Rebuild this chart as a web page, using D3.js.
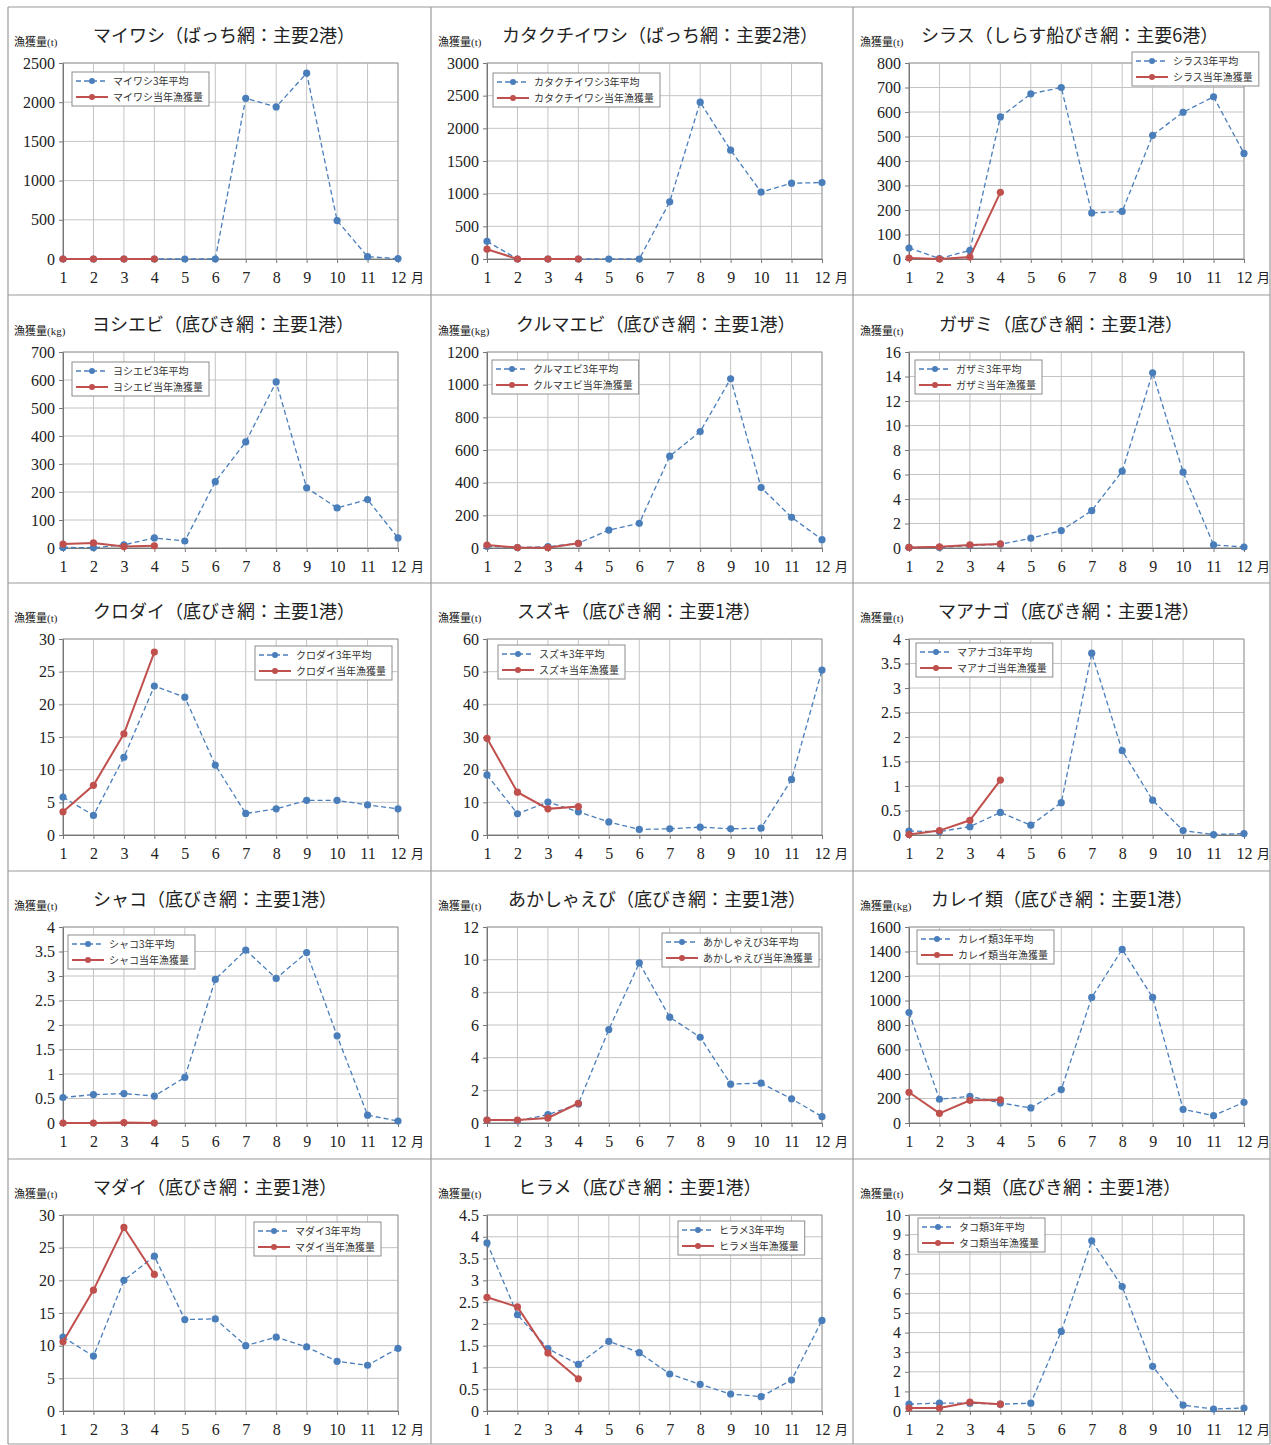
<!DOCTYPE html>
<html>
<head>
<meta charset="utf-8">
<script src="https://cdn.jsdelivr.net/npm/d3@7"></script>
<style>
  body { margin: 0; background: #fff; }
  svg { display: block; }
</style>
</head>
<body>
<svg id="vis" width="1271" height="1445"></svg>
<script>
// ---- data ----
var months = [1, 2, 3, 4, 5, 6, 7, 8, 9, 10, 11, 12];

var speciesNames = ['マイワシ', 'カタクチイワシ', 'シラス', 'ヨシエビ', 'クルマエビ', 'ガザミ',
    'クロダイ', 'スズキ', 'マアナゴ', 'シャコ', 'あかしゃえび', 'カレイ類', 'マダイ', 'ヒラメ', 'タコ類'];

var gearLabels = ['ばっち網：主要2港', 'ばっち網：主要2港', 'しらす船びき網：主要6港',
    '底びき網：主要1港', '底びき網：主要1港', '底びき網：主要1港', '底びき網：主要1港',
    '底びき網：主要1港', '底びき網：主要1港', '底びき網：主要1港', '底びき網：主要1港',
    '底びき網：主要1港', '底びき網：主要1港', '底びき網：主要1港', '底びき網：主要1港'];

var units = ['t', 't', 't', 'kg', 'kg', 't', 't', 't', 't', 't', 't', 'kg', 't', 't', 't'];

var yMaxes = [2500, 3000, 800, 700, 1200, 16, 30, 60, 4, 4, 12, 1600, 30, 4.5, 10];
var ySteps = [500, 500, 100, 100, 200, 2, 5, 10, 0.5, 0.5, 2, 200, 5, 0.5, 1];

// 3年平均 (12 months)
var avg3yr = [
    [0, 0, 0, 0, 0, 0, 2050, 1940, 2370, 490, 30, 5],
    [270, 0, 0, 0, 0, 0, 875, 2400, 1665, 1025, 1160, 1170],
    [45, 2, 35, 580, 674, 700, 188, 194, 505, 599, 662, 431],
    [2, 1, 11, 36, 25, 237, 379, 593, 215, 143, 173, 36],
    [10, 3, 8, 29, 110, 151, 562, 713, 1036, 370, 188, 51],
    [0.05, 0.05, 0.2, 0.3, 0.8, 1.42, 3.05, 6.27, 14.3, 6.19, 0.25, 0.08],
    [5.8, 3.0, 11.9, 22.8, 21.1, 10.7, 3.3, 4.0, 5.3, 5.3, 4.6, 4.0],
    [18.4, 6.5, 10.1, 7.1, 4.0, 1.7, 1.9, 2.4, 1.9, 2.1, 17, 50.5],
    [0.08, 0.07, 0.17, 0.46, 0.2, 0.66, 3.71, 1.72, 0.71, 0.09, 0.01, 0.03],
    [0.52, 0.58, 0.6, 0.55, 0.93, 2.93, 3.53, 2.95, 3.48, 1.78, 0.16, 0.04],
    [0.18, 0.14, 0.51, 1.17, 5.72, 9.8, 6.48, 5.25, 2.38, 2.44, 1.48, 0.39],
    [902, 194, 218, 164, 123, 273, 1025, 1417, 1025, 112, 60, 169],
    [11.3, 8.4, 20.0, 23.7, 14.0, 14.1, 10.0, 11.3, 9.8, 7.6, 7.0, 9.6],
    [3.86, 2.21, 1.43, 1.07, 1.6, 1.34, 0.85, 0.61, 0.39, 0.33, 0.71, 2.08],
    [0.35, 0.4, 0.4, 0.35, 0.4, 4.06, 8.68, 6.35, 2.28, 0.3, 0.1, 0.15]
];

// 当年漁獲量 (Jan - Apr so far)
var currentYear = [
    [0, 0, 0, 0],
    [150, 0, 0, 0],
    [4, 0, 8, 272],
    [14, 18, 5, 8],
    [18, 3, 2, 29],
    [0.05, 0.1, 0.25, 0.33],
    [3.56, 7.6, 15.5, 28.0],
    [29.6, 13.1, 8.0, 8.7],
    [0.01, 0.09, 0.3, 1.12],
    [0, 0, 0.01, 0],
    [0.18, 0.18, 0.31, 1.21],
    [251, 79, 185, 188],
    [10.6, 18.5, 28.1, 20.9],
    [2.61, 2.39, 1.33, 0.74],
    [0.15, 0.15, 0.45, 0.35]
];

// ---- layout ----
var colLeft = [63, 487, 909];
var rowTop = [63, 352, 639, 927, 1215];
var plotW = 335, plotH = 196;

//title start offset from plot left, legend box offset from plot top-left
var titleDx = [30, 15, 12, 29, 29, 30, 30, 30, 29, 30, 21, 22, 30, 31, 28];
var legendPos = [[9, 9], [6, 10], [223, -11], [9, 10], [5, 8], [6, 8], [192, 7], [11, 6],
    [7, 4], [5, 8], [175, 6], [8, 3], [191, 7], [191, 6], [9, 3]];

var blue = '#4a7ebb', red = '#c0504d';
var serif = '"Liberation Serif", "Times New Roman", serif';
var sans = '"Noto Sans CJK JP", "Noto Sans", sans-serif';

var svg = d3.select('#vis');

//panel frame lines
var frameX = [8, 431, 853, 1270], frameY = [7, 295, 583, 871, 1159, 1444];
svg.append('g').selectAll('line.fx').data(frameX).enter().append('line')
    .attr('x1', function(d){ return d; }).attr('x2', function(d){ return d; })
    .attr('y1', 7).attr('y2', 1444)
    .attr('stroke', '#9a9a9a').attr('stroke-width', 1.2);
svg.append('g').selectAll('line.fy').data(frameY).enter().append('line')
    .attr('y1', function(d){ return d; }).attr('y2', function(d){ return d; })
    .attr('x1', 8).attr('x2', 1270)
    .attr('stroke', '#9a9a9a').attr('stroke-width', 1.2);

function fmt(d) {
    return String(+d.toFixed(2));
}

speciesNames.forEach(function(name, i) {
    var col = i % 3, row = Math.floor(i / 3);
    var g = svg.append('g')
        .attr('transform', 'translate(' + colLeft[col] + ',' + rowTop[row] + ')');

    var x = d3.scaleLinear().domain([1, 12]).range([0, plotW]);
    var y = d3.scaleLinear().domain([0, yMaxes[i]]).range([plotH, 0]);
    var yTicks = d3.range(0, yMaxes[i] + ySteps[i] / 2, ySteps[i]);

    // gridlines
    g.append('g').selectAll('line').data(yTicks).enter().append('line')
        .attr('x1', 0).attr('x2', plotW)
        .attr('y1', function(d){ return y(d); }).attr('y2', function(d){ return y(d); })
        .attr('stroke', '#c4c4c4').attr('stroke-width', 1);
    g.append('g').selectAll('line').data(months).enter().append('line')
        .attr('y1', 0).attr('y2', plotH)
        .attr('x1', function(d){ return x(d); }).attr('x2', function(d){ return x(d); })
        .attr('stroke', '#c4c4c4').attr('stroke-width', 1);
    g.append('rect')
        .attr('x', 0).attr('y', 0).attr('width', plotW).attr('height', plotH)
        .attr('fill', 'none').attr('stroke', '#a0a0a0');

    // axes
    var yAxis = g.append('g')
        .call(d3.axisLeft(y).tickValues(yTicks).tickSize(4).tickSizeOuter(0).tickPadding(4).tickFormat(fmt));
    var xAxis = g.append('g')
        .attr('transform', 'translate(0,' + plotH + ')')
        .call(d3.axisBottom(x).tickValues(months).tickSize(4).tickSizeOuter(0).tickPadding(9).tickFormat(d3.format('d')));
    [yAxis, xAxis].forEach(function(ax) {
        ax.select('.domain').attr('stroke', '#777');
        ax.selectAll('.tick line').attr('stroke', '#777');
        ax.selectAll('.tick text')
            .attr('fill', '#222')
            .style('font-family', serif)
            .style('font-size', '16px');
    });

    // "月" after the x tick labels
    g.append('text')
        .attr('x', plotW + 13).attr('y', plotH + 23)
        .style('font-family', sans).style('font-size', '13px').attr('fill', '#222')
        .text('月');

    // y unit label
    var yl = g.append('text')
        .attr('x', -49).attr('y', -17)
        .attr('fill', '#222');
    yl.append('tspan').style('font-family', sans).style('font-size', '11px').text('漁獲量');
    yl.append('tspan').style('font-family', serif).style('font-size', '11px').text('(' + units[i] + ')');

    // title
    g.append('text')
        .attr('x', titleDx[i]).attr('y', -21)
        .style('font-family', sans).style('font-size', '18px').attr('fill', '#222')
        .text(name + '（' + gearLabels[i] + '）');

    var line = d3.line()
        .x(function(d, j){ return x(months[j]); })
        .y(function(d){ return y(d); });

    // 3年平均 series
    g.append('path')
        .datum(avg3yr[i])
        .attr('d', line)
        .attr('fill', 'none').attr('stroke', blue)
        .attr('stroke-width', 1.3).attr('stroke-dasharray', '5,3');
    g.append('g').selectAll('circle').data(avg3yr[i]).enter().append('circle')
        .attr('cx', function(d, j){ return x(months[j]); })
        .attr('cy', function(d){ return y(d); })
        .attr('r', 3.6).attr('fill', blue);

    // 当年 series
    g.append('path')
        .datum(currentYear[i])
        .attr('d', line)
        .attr('fill', 'none').attr('stroke', red).attr('stroke-width', 2);
    g.append('g').selectAll('circle').data(currentYear[i]).enter().append('circle')
        .attr('cx', function(d, j){ return x(months[j]); })
        .attr('cy', function(d){ return y(d); })
        .attr('r', 3.6).attr('fill', red);

    // legend
    var lg = g.append('g')
        .attr('transform', 'translate(' + legendPos[i][0] + ',' + legendPos[i][1] + ')');
    var box = lg.append('rect')
        .attr('x', 0).attr('y', 0).attr('height', 34)
        .attr('fill', '#fff').attr('stroke', '#8c8c8c');
    var legendItems = [
        {label: name + '3年平均', color: blue, dash: '5,3', w: 1.3},
        {label: name + '当年漁獲量', color: red, dash: null, w: 2}
    ];
    var maxW = 0;
    legendItems.forEach(function(d, k) {
        var cy = 9 + k * 16;
        lg.append('line')
            .attr('x1', 4).attr('x2', 36).attr('y1', cy).attr('y2', cy)
            .attr('stroke', d.color).attr('stroke-width', d.w)
            .attr('stroke-dasharray', d.dash);
        lg.append('circle').attr('cx', 20).attr('cy', cy).attr('r', 3).attr('fill', d.color);
        var t = lg.append('text')
            .attr('x', 41).attr('y', cy + 3.5)
            .style('font-family', sans).style('font-size', '10px').attr('fill', '#333')
            .text(d.label);
        maxW = Math.max(maxW, t.node().getComputedTextLength());
    });
    box.attr('width', 41 + maxW + 6);
});
</script>
</body>
</html>
